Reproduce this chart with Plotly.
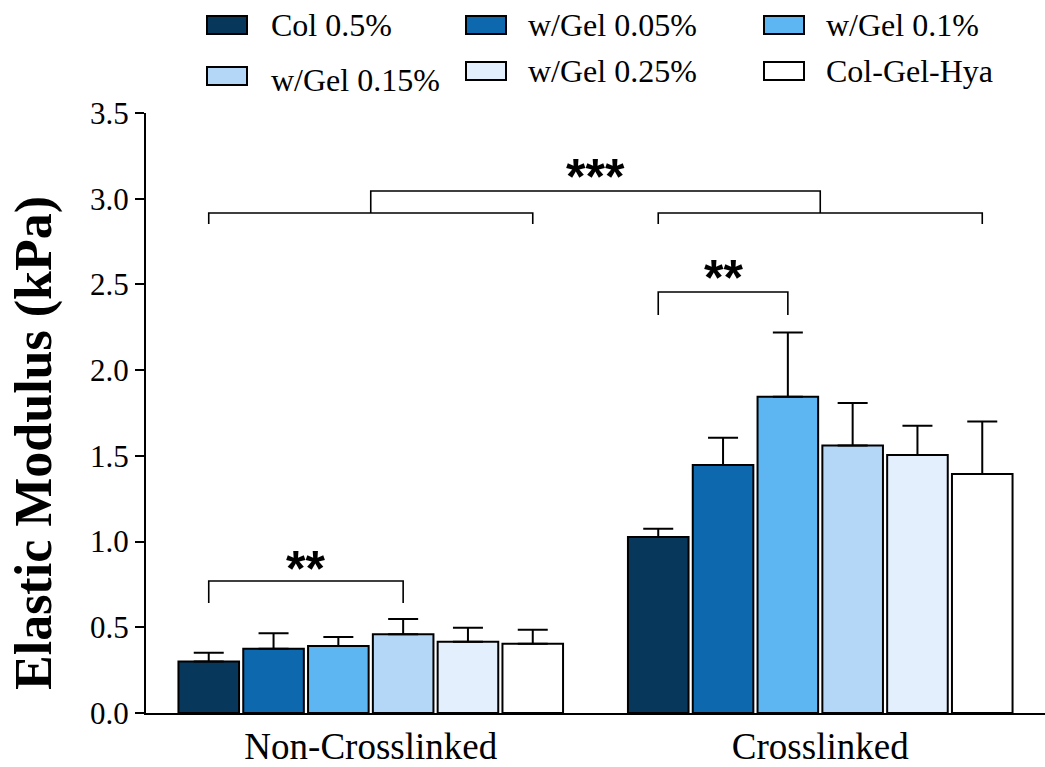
import plotly.graph_objects as go

groups = ["Non-Crosslinked", "Crosslinked"]
series_names = ["Col 0.5%", "w/Gel 0.05%", "w/Gel 0.1%", "w/Gel 0.15%", "w/Gel 0.25%", "Col-Gel-Hya"]
colors = ["#08375C", "#0D68AE", "#5DB5F2", "#B5D7F7", "#E3EFFD", "#FFFFFF"]

# means [Non-Crosslinked, Crosslinked]
col_05 = [0.300, 1.027]
gel_005 = [0.375, 1.447]
gel_01 = [0.391, 1.845]
gel_015 = [0.459, 1.560]
gel_025 = [0.416, 1.505]
col_gel_hya = [0.404, 1.394]

# upper error (SD)
col_05_err = [0.052, 0.048]
gel_005_err = [0.090, 0.159]
gel_01_err = [0.052, 0.375]
gel_015_err = [0.089, 0.249]
gel_025_err = [0.082, 0.171]
col_gel_hya_err = [0.082, 0.306]

means = [col_05, gel_005, gel_01, gel_015, gel_025, col_gel_hya]
errs = [col_05_err, gel_005_err, gel_01_err, gel_015_err, gel_025_err, col_gel_hya_err]

y_ticks = [0.0, 0.5, 1.0, 1.5, 2.0, 2.5, 3.0, 3.5]
y_title = "Elastic Modulus (kPa)"

FONT = "Times New Roman, Liberation Serif, serif"
BARGAP = 0.135
BARGROUPGAP = 0.065

fig = go.Figure()
for name, m, e, c in zip(series_names, means, errs, colors):
    fig.add_trace(go.Bar(
        x=groups, y=m, name=name,
        marker=dict(color=c, line=dict(color="black", width=2)),
        error_y=dict(type="data", array=e, arrayminus=[0] * len(e), symmetric=False,
                     color="black", thickness=2, width=15),
        showlegend=False,
    ))

# bar centre offsets within a group (category units)
n = len(series_names)
slot = (1 - BARGAP) / n
def bx(g, i):
    return g - (1 - BARGAP) / 2 + slot * (i + 0.5)

shapes = []
def bracket(x0, x1, ytop, ybot):
    shapes.append(dict(type="path", xref="x", yref="y",
                       path=f"M {x0},{ybot} L {x0},{ytop} L {x1},{ytop} L {x1},{ybot}",
                       line=dict(color="black", width=1.6)))

annotations = []
def stars(x, y, txt):
    annotations.append(dict(x=x, y=y, xref="x", yref="y", text=f"<b>{txt}</b>", showarrow=False,
                            font=dict(family="Liberation Sans, Arial, sans-serif", size=50, color="black"),
                            yanchor="middle"))

# Non-crosslinked: Col 0.5% vs w/Gel 0.15%
bracket(bx(0, 0), bx(0, 3), 0.770, 0.642)
stars((bx(0, 0) + bx(0, 3)) / 2, 0.84, "**")
# Crosslinked: Col 0.5% vs w/Gel 0.1%
bracket(bx(1, 0), bx(1, 2), 2.456, 2.322)
stars((bx(1, 0) + bx(1, 2)) / 2, 2.535, "**")
# overall
bracket(bx(0, 0), bx(0, 5), 2.917, 2.853)
bracket(bx(1, 0), bx(1, 5), 2.917, 2.853)
bracket(0, 1, 3.045, 2.917)
stars(0.5, 3.125, "***")

# pixel helpers for layout placement
L, T, PW, PH = 146, 113, 899, 600
def px2x(px):
    return (px - L) / PW
def py2y(py):
    return 1 + (T - py) / PH

# y-axis title (placed as rotated text to match the reference offset)
annotations.append(dict(x=px2x(34), y=py2y(443), xref="paper", yref="paper",
                        text=f"<b>{y_title}</b>", textangle=-90, showarrow=False,
                        xanchor="center", yanchor="middle",
                        font=dict(family=FONT, size=52, color="black")))

# custom legend
sw_x0 = [207, 466, 764]
txt_x = [269, 526, 824]
row_y = [[25, 25, 25], [76, 71, 71]]
txt_y = [[25, 25, 25], [80, 71, 71]]
for k, (name, c) in enumerate(zip(series_names, colors)):
    r, col = divmod(k, 3)
    cy = row_y[r][col]
    shapes.append(dict(type="rect", xref="paper", yref="paper",
                       x0=px2x(sw_x0[col]), x1=px2x(sw_x0[col] + 40),
                       y0=py2y(cy - 9), y1=py2y(cy + 9),
                       fillcolor=c, line=dict(color="black", width=2)))
    annotations.append(dict(x=px2x(txt_x[col]), y=py2y(txt_y[r][col]), xref="paper", yref="paper",
                            text=name, showarrow=False, xanchor="left", yanchor="middle",
                            font=dict(family=FONT, size=32, color="black")))

fig.update_layout(
    width=1045, height=767,
    margin=dict(l=L, r=1045 - L - PW, t=T, b=767 - T - PH),
    paper_bgcolor="white", plot_bgcolor="white",
    barmode="group", bargap=BARGAP, bargroupgap=BARGROUPGAP,
    font=dict(family=FONT, color="black"),
    shapes=shapes, annotations=annotations,
    xaxis=dict(showline=True, linecolor="black", linewidth=2, ticks="",
               tickfont=dict(family=FONT, size=37, color="black"), range=[-0.5, 1.5],
               showgrid=False, zeroline=False),
    yaxis=dict(range=[0, 3.5], tickvals=y_ticks, ticktext=[f"{v:.1f}" for v in y_ticks],
               showline=True, linecolor="black", linewidth=2, ticks="outside", ticklen=9,
               tickwidth=2, tickcolor="black", showgrid=False, zeroline=False,
               tickfont=dict(family=FONT, size=31, color="black")),
)

fig.write_html("out.html")
